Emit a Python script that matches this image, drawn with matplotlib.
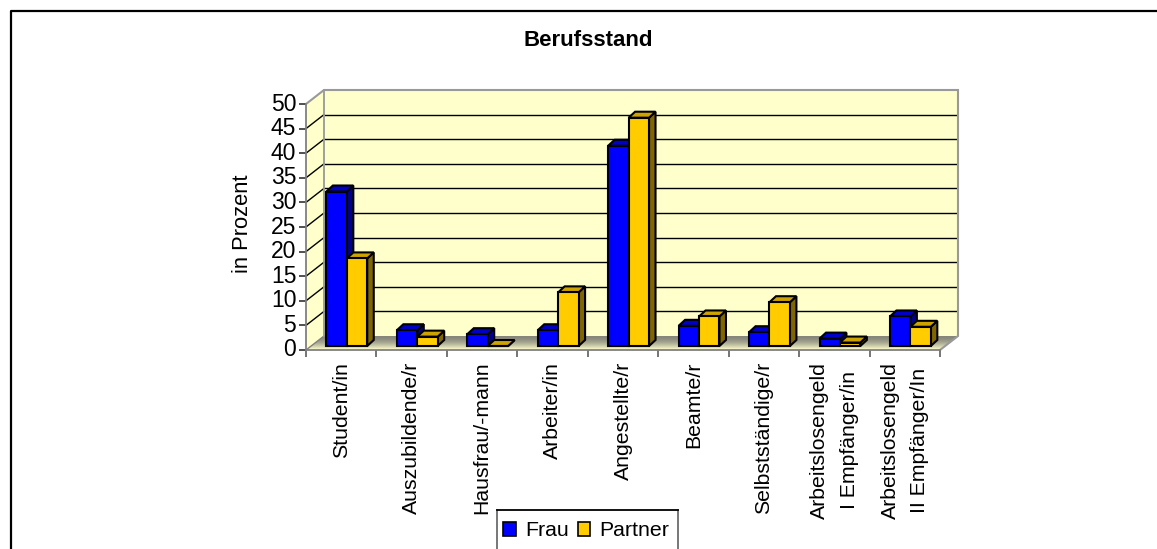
import numpy as np
import matplotlib
matplotlib.use('Agg')
import matplotlib.pyplot as plt
from matplotlib.patches import Polygon, Rectangle
from matplotlib.transforms import Affine2D, IdentityTransform

categories = ['Student/in', 'Auszubildende/r', 'Hausfrau/-mann', 'Arbeiter/in', 'Angestellte/r',
              'Beamte/r', 'Selbstständige/r', 'Arbeitslosengeld\nI Empfänger/in',
              'Arbeitslosengeld\nII Empfänger/In']
frau = [31.4, 3.2, 2.4, 3.2, 40.7, 4.1, 2.8, 1.5, 6.0]
partner = [17.8, 1.9, 0.0, 10.9, 46.4, 6.0, 8.9, 0.7, 3.9]
y_ticks = list(range(0, 55, 5))

W, H = 1157, 549
DX, DY = 18, 14       # wall depth in pixels
BAR_DX, BAR_DY = 5.6, 4   # bars stand a little behind the front edge
TOP_DX, TOP_DY = 6.5, 6   # bar depth
BAR_W = 0.29

plt.rcParams['font.family'] = ['Liberation Sans', 'DejaVu Sans']

fig = plt.figure(figsize=(W / 100, H / 100), dpi=100, facecolor='white')
ax = fig.add_axes([306 / W, (H - 350) / H, 634 / W, 246 / H])
ax.set_xlim(0, 9)
ax.set_ylim(0, 50)
ax.patch.set_visible(False)
for s in ['top', 'right']:
    ax.spines[s].set_visible(False)
for s in ['left', 'bottom']:
    ax.spines[s].set_color('#808080')
    ax.spines[s].set_linewidth(1.3)

to_px = ax.transData.transform
wall_tr = ax.transData + Affine2D().translate(DX, DY)
bar_tr = ax.transData + Affine2D().translate(BAR_DX, BAR_DY)
px = IdentityTransform()


def poly(points, color, edge='none', lw=0, z=1):
    ax.add_patch(Polygon(points, closed=True, facecolor=color, edgecolor=edge, linewidth=lw,
                         transform=px, zorder=z, clip_on=False, joinstyle='miter'))


# walls
x0, y0 = to_px((0, 0))
x1, y1 = to_px((9, 50))
wall = '#FFFFCC'
poly([(x0 + DX, y0 + DY), (x1 + DX, y0 + DY), (x1 + DX, y1 + DY), (x0 + DX, y1 + DY)], wall, z=0.5)
poly([(x0, y0), (x0 + DX, y0 + DY), (x0 + DX, y1 + DY), (x0, y1)], wall, z=0.5)

# floor, shaded towards the back wall
c_back = np.array(matplotlib.colors.to_rgb('#85857A'))
c_front = np.array(matplotlib.colors.to_rgb('#FFFFCC'))
for i in range(DY):
    f0, f1 = i / DY, min(1, (i + 1.4) / DY)
    col = c_back + (c_front - c_back) * (1 - i / (DY - 1)) ** 1.6
    poly([(x0 + DX * f0, y0 + DY * f0), (x1 + DX * f0, y0 + DY * f0),
          (x1 + DX * f1, y0 + DY * f1), (x0 + DX * f1, y0 + DY * f1)], col, z=0.6)

# grid lines on both walls
for v in y_ticks[1:-1]:
    ax.plot([0, 9], [v, v], color='black', lw=1.0, transform=wall_tr, zorder=0.8, clip_on=False,
            solid_capstyle='butt')
for v in y_ticks[:-1]:
    yp = to_px((0, v))[1]
    ax.plot([x0, x0 + DX], [yp, yp + DY], color='black' if v else '#808080', lw=1.0, transform=px,
            zorder=0.8, clip_on=False)

# grey wall outline
ax.plot([x0, x0 + DX, x1 + DX, x1 + DX, x1], [y1, y1 + DY, y1 + DY, y0 + DY, y0], color='#999999', lw=1.5,
        transform=px, zorder=0.9, clip_on=False, solid_joinstyle='miter')
ax.plot([x0 + DX, x0 + DX], [y0 + DY, y1 + DY], color='#999999', lw=1.3, transform=px, zorder=0.9, clip_on=False)


def draw_bars(lefts, values, front, side, top, z):
    ax.bar(lefts, values, width=BAR_W, align='edge', color=front, edgecolor='black', linewidth=1.5,
           transform=bar_tr, zorder=z + 0.1, clip_on=False)
    for left, v in zip(lefts, values):
        xa, ya = to_px((left, v))
        xb, yb = to_px((left + BAR_W, 0))
        xa, xb = xa + BAR_DX, xb + BAR_DX
        ya, yb = ya + BAR_DY, yb + BAR_DY
        poly([(xb, yb), (xb + TOP_DX, yb + TOP_DY), (xb + TOP_DX, ya + TOP_DY), (xb, ya)],
             side, 'black', 1.5, z)
        poly([(xa, ya), (xb, ya), (xb + TOP_DX, ya + TOP_DY), (xa + TOP_DX, ya + TOP_DY)],
             top, 'black', 1.5, z)


centers = np.arange(len(categories)) + 0.5
for i in range(len(categories)):
    draw_bars([centers[i] - BAR_W], [frau[i]], '#0000FF', '#00008C', '#0000C8', 2 + i)
    draw_bars([centers[i]], [partner[i]], '#FFCC00', '#806600', '#CCA300', 2.3 + i)

# axes text
ax.set_yticks(y_ticks)
ax.set_yticklabels([str(v) for v in y_ticks], fontsize=16.5, color='black')
ax.tick_params(axis='y', length=5, width=1.1, color='#202020', pad=2)
for lab in ax.get_yticklabels():
    lab.set_transform(lab.get_transform() + Affine2D().translate(0, 2.5))
ax.set_xticks(np.arange(0, 10))
ax.set_xticklabels([])
ax.tick_params(axis='x', which='major', length=4.8, width=1.1, color='#505050')
ax.set_xticks(centers, minor=True)
ax.set_xticklabels(categories, minor=True, rotation=90, fontsize=15.3, ha='center', va='top',
                   multialignment='center', linespacing=1.7)
ax.tick_params(axis='x', which='minor', length=0, pad=8.5)

fig.text(242 / W, 1 - 224 / H, 'in Prozent', rotation=90, fontsize=15.8, ha='center', va='center')
fig.text(588 / W, 1 - 41 / H, 'Berufsstand', fontsize=16, fontweight='bold', ha='center', va='center')

# frame of the whole chart, cut by the bottom and right of the picture
fig.add_artist(plt.Line2D([10.5 / W, 10.5 / W, 1], [0, 1 - 10.5 / H, 1 - 10.5 / H], color='black', lw=1.6))

# legend, its box runs off the bottom of the picture
fig.add_artist(plt.Line2D([497 / W, 497 / W], [0, 1 - 510 / H], color='#606060', lw=1.2))
fig.add_artist(plt.Line2D([678 / W, 678 / W], [0, 1 - 510 / H], color='#606060', lw=1.2))
fig.add_artist(plt.Line2D([497 / W, 678 / W], [1 - 510 / H, 1 - 510 / H], color='black', lw=1.3))
handles = [Rectangle((0, 0), 1, 1, facecolor='#0000FF', edgecolor='black', linewidth=1.2),
           Rectangle((0, 0), 1, 1, facecolor='#FFCC00', edgecolor='black', linewidth=1.2)]
fig.legend(handles, ['Frau', 'Partner'], ncol=2, loc='upper left',
           bbox_to_anchor=(497 / W, 1 - 515 / H), fontsize=15.3, frameon=False,
           handlelength=0.6, handleheight=0.6, handletextpad=0.43,
           columnspacing=0.4, borderaxespad=0, borderpad=0.3)

fig.savefig('out.png', dpi=100)
